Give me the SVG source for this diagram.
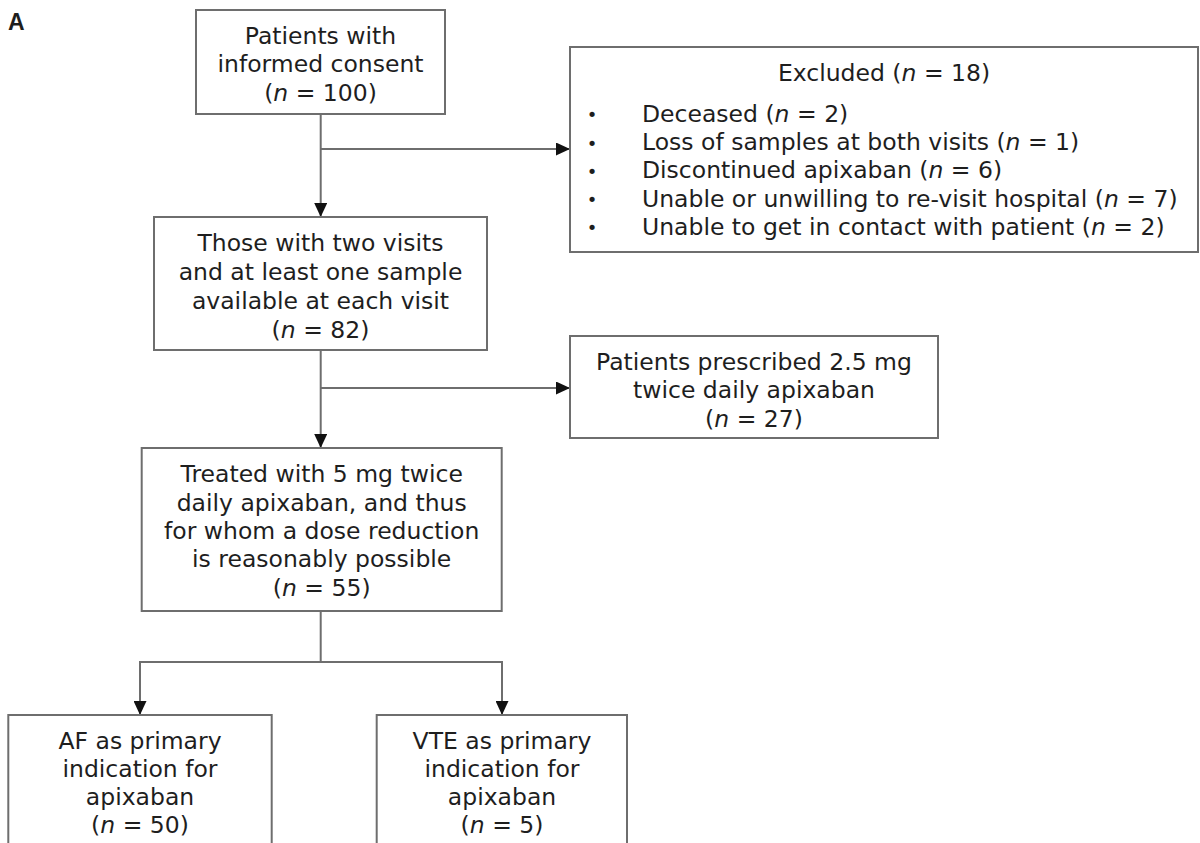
<svg xmlns="http://www.w3.org/2000/svg" width="1200" height="843" viewBox="0 0 1200 843">
<style>
  .box { fill: #ffffff; stroke: #6e6e6e; stroke-width: 2; }
  .conn { fill: none; stroke: #6e6e6e; stroke-width: 2; }
  text { font-family: "DejaVu Sans", Verdana, sans-serif; font-size: 23.5px; fill: #1e1e1e; }
  .c { text-anchor: middle; }
  .i { font-style: italic; }
  .b { font-size: 18px; text-anchor: middle; }
  .lbl { font-family: "Liberation Sans", Arial, sans-serif; font-weight: bold; font-size: 23px; }
</style>
<defs>
  <marker id="arr" viewBox="0 0 14 13" refX="14" refY="6.5" markerWidth="14" markerHeight="13" markerUnits="userSpaceOnUse" orient="auto">
    <path d="M0,0 L14,6.5 L0,13 Z" fill="#111111"/>
  </marker>
</defs>
<rect width="1200" height="843" fill="#ffffff"/>
<text class="lbl" x="8" y="30">A</text>

<g id="connectors">
  <path class="conn" d="M320.7,114 V217" marker-end="url(#arr)"/>
  <path class="conn" d="M320.7,149 H570" marker-end="url(#arr)"/>
  <path class="conn" d="M320.7,350 V448" marker-end="url(#arr)"/>
  <path class="conn" d="M320.7,388 H570" marker-end="url(#arr)"/>
  <path class="conn" d="M320.7,611 V662"/>
  <path class="conn" d="M140,662 H502"/>
  <path class="conn" d="M140,661 V715" marker-end="url(#arr)"/>
  <path class="conn" d="M502,661 V715" marker-end="url(#arr)"/>
</g>

<g id="node-consent">
  <rect class="box" x="196" y="10" width="249" height="104"/>
  <text class="c" x="320.5" y="44">Patients with</text>
  <text class="c" x="320.5" y="72">informed consent</text>
  <text class="c" x="320.5" y="100.5">(<tspan class="i">n</tspan> = 100)</text>
</g>

<g id="node-excluded">
  <rect class="box" x="570" y="47" width="628" height="205"/>
  <text class="c" x="884" y="81">Excluded (<tspan class="i">n</tspan> = 18)</text>
  <text class="b" x="592" y="121">•</text>
  <text x="642" y="121.5">Deceased (<tspan class="i">n</tspan> = 2)</text>
  <text class="b" x="592" y="149.5">•</text>
  <text x="642" y="150">Loss of samples at both visits (<tspan class="i">n</tspan> = 1)</text>
  <text class="b" x="592" y="177.5">•</text>
  <text x="642" y="178">Discontinued apixaban (<tspan class="i">n</tspan> = 6)</text>
  <text class="b" x="592" y="206">•</text>
  <text x="642" y="206.5">Unable or unwilling to re-visit hospital (<tspan class="i">n</tspan> = 7)</text>
  <text class="b" x="592" y="234">•</text>
  <text x="642" y="234.5">Unable to get in contact with patient (<tspan class="i">n</tspan> = 2)</text>
</g>

<g id="node-two-visits">
  <rect class="box" x="154" y="217" width="333" height="133"/>
  <text class="c" x="320.5" y="250.5">Those with two visits</text>
  <text class="c" x="320.5" y="279.5">and at least one sample</text>
  <text class="c" x="320.5" y="308.5">available at each visit</text>
  <text class="c" x="320.5" y="337.5">(<tspan class="i">n</tspan> = 82)</text>
</g>

<g id="node-2-5mg">
  <rect class="box" x="570" y="336" width="368" height="102"/>
  <text class="c" x="754" y="369.5">Patients prescribed 2.5 mg</text>
  <text class="c" x="754" y="398">twice daily apixaban</text>
  <text class="c" x="754" y="426.5">(<tspan class="i">n</tspan> = 27)</text>
</g>

<g id="node-5mg">
  <rect class="box" x="141.7" y="448" width="360" height="163"/>
  <text class="c" x="321.7" y="482">Treated with 5 mg twice</text>
  <text class="c" x="321.7" y="510.5">daily apixaban, and thus</text>
  <text class="c" x="321.7" y="539">for whom a dose reduction</text>
  <text class="c" x="321.7" y="567">is reasonably possible</text>
  <text class="c" x="321.7" y="595.5">(<tspan class="i">n</tspan> = 55)</text>
</g>

<g id="node-af">
  <rect class="box" x="8.3" y="715" width="263.4" height="160"/>
  <text class="c" x="140" y="748.5">AF as primary</text>
  <text class="c" x="140" y="777">indication for</text>
  <text class="c" x="140" y="805">apixaban</text>
  <text class="c" x="140" y="833">(<tspan class="i">n</tspan> = 50)</text>
</g>

<g id="node-vte">
  <rect class="box" x="376.7" y="715" width="250.3" height="160"/>
  <text class="c" x="502" y="748.5">VTE as primary</text>
  <text class="c" x="502" y="777">indication for</text>
  <text class="c" x="502" y="805">apixaban</text>
  <text class="c" x="502" y="833">(<tspan class="i">n</tspan> = 5)</text>
</g>
</svg>
